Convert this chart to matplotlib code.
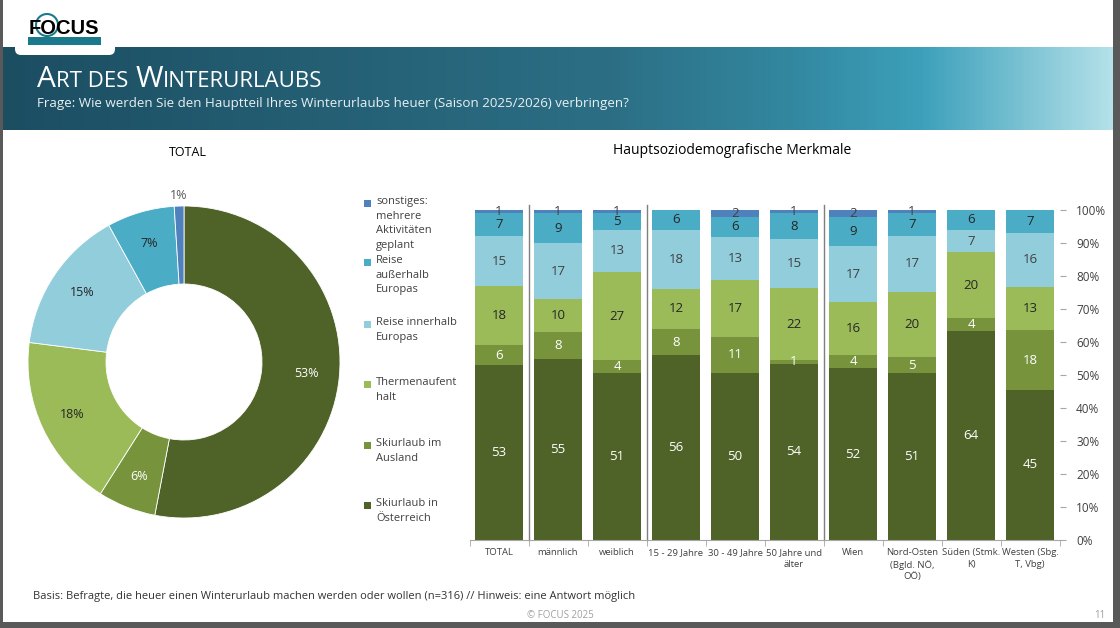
import numpy as np
import matplotlib
matplotlib.use('Agg')
import matplotlib.pyplot as plt
from matplotlib.patches import Rectangle, FancyBboxPatch, Circle
from matplotlib.colors import LinearSegmentedColormap

plt.rcParams['font.family'] = ['Open Sans', 'DejaVu Sans']

W, H = 1120, 628

# --- data -------------------------------------------------------------
series = ['Skiurlaub in Österreich', 'Skiurlaub im Ausland', 'Thermenaufenthalt',
          'Reise innerhalb Europas', 'Reise außerhalb Europas',
          'sonstiges: mehrere Aktivitäten geplant']
legend_text = ['Skiurlaub in\nÖsterreich', 'Skiurlaub im\nAusland', 'Thermenaufent\nhalt',
               'Reise innerhalb\nEuropas', 'Reise\naußerhalb\nEuropas',
               'sonstiges:\nmehrere\nAktivitäten\ngeplant']
colors = ['#4f6228', '#77933c', '#9bbb59', '#92cddc', '#4bacc6', '#4f81bd']
text_colors = ['white', 'white', '#262626', '#404040', '#262626', '#404040']

total_pct = [53, 6, 18, 15, 7, 1]

groups = ['TOTAL', 'männlich', 'weiblich', '15 - 29 Jahre', '30 - 49 Jahre',
          '50 Jahre und\nälter', 'Wien', 'Nord-Osten\n(Bgld. NÖ,\nOÖ)',
          'Süden (Stmk.\nK)', 'Westen (Sbg.\nT, Vbg)']
oesterreich = [53, 55, 51, 56, 50, 54, 52, 51, 64, 45]
ausland = [6, 8, 4, 8, 11, 1, 4, 5, 4, 18]
therme = [18, 10, 27, 12, 17, 22, 16, 20, 20, 13]
innerhalb = [15, 17, 13, 18, 13, 15, 17, 17, 7, 16]
ausserhalb = [7, 9, 5, 6, 6, 8, 9, 7, 6, 7]
sonstiges = [1, 1, 1, 0, 2, 1, 2, 1, 0, 0]

fig = plt.figure(figsize=(11.2, 6.28), dpi=100)
fig.patch.set_facecolor('white')

# background axes in pixel units for slide decorations
bg = fig.add_axes([0, 0, 1, 1])
bg.set_xlim(0, W)
bg.set_ylim(H, 0)
bg.axis('off')
bg.patch.set_alpha(0)

# header band
cmap = LinearSegmentedColormap.from_list('hdr', [
    (0.0, '#1c4e62'), (0.55, '#2c6f85'), (0.72, '#3389a1'),
    (0.83, '#3da0bb'), (0.9, '#6bbacd'), (1.0, '#b3e0e9')])
grad = np.linspace(0, 1, 400).reshape(1, -1)
bg.imshow(grad, cmap=cmap, extent=(3, 1113, 130, 47), aspect='auto', zorder=1)

# logo
bg.add_patch(FancyBboxPatch((15, -10), 100, 65, boxstyle='round,pad=0,rounding_size=6',
                            fc='white', ec='none', zorder=2))
bg.add_patch(Rectangle((28, 37), 73, 8, fc='#1a7a8c', ec='none', zorder=3))
bg.add_patch(Circle((47, 25), 11, fc='none', ec='#1a7a8c', lw=1.5, zorder=3))
bg.text(64, 34, 'FOCUS', fontsize=14.5, fontweight='bold', color='black',
        family='Liberation Sans', ha='center', va='baseline', zorder=4)

# title in small caps
r = fig.canvas.get_renderer()
x = 37
for s, size in [('A', 21.5), ('RT DES', 16), (' ', 16), ('W', 21.5), ('INTERURLAUBS', 16)]:
    if s == ' ':
        x += 7
        continue
    t = bg.text(x, 87, s, fontsize=size, color='white', va='baseline', zorder=4)
    x += t.get_window_extent(r).width
bg.text(37, 104, 'Frage: Wie werden Sie den Hauptteil Ihres Winterurlaubs heuer (Saison 2025/2026) verbringen?',
        fontsize=9.6, color='#e8f0f2', va='center', zorder=4)

# frame
bg.add_patch(Rectangle((0, 0), 3, H, fc='#595959', ec='none', zorder=5))
bg.add_patch(Rectangle((1113, 0), 7, H, fc='#595959', ec='none', zorder=5))
bg.add_patch(Rectangle((0, 622), W, 6, fc='#595959', ec='none', zorder=5))

# section titles
bg.text(188, 152, 'TOTAL', fontsize=9, color='black', ha='center', va='center')
bg.text(732, 150, 'Hauptsoziodemografische Merkmale', fontsize=10, color='black',
        ha='center', va='center')

# footer
bg.text(33, 597, 'Basis: Befragte, die heuer einen Winterurlaub machen werden oder wollen (n=316) // Hinweis: eine Antwort möglich',
        fontsize=8, color='#333333', va='center')
bg.text(560, 616, '© FOCUS 2025', fontsize=7, color='#a0a0a0', ha='center', va='center')
bg.text(1100, 615, '11', fontsize=7, color='#a0a0a0', ha='center', va='center')

# legend
leg_y = [506, 446, 385, 325, 263, 204]
for txt, col, y in zip(legend_text, colors, leg_y):
    bg.add_patch(Rectangle((364, y - 4), 7, 7, fc=col, ec='none'))
    bg.text(376, y - 8, txt, fontsize=8, color='#404040', va='top', linespacing=1.45)

# --- donut ----------------------------------------------------------------
cx, cy, rad = 184, 362, 156
pax = fig.add_axes([(cx - rad) / W, 1 - (cy + rad) / H, 2 * rad / W, 2 * rad / H])
pax.pie(total_pct, colors=colors, startangle=90, counterclock=False, radius=1,
        wedgeprops=dict(width=0.5, edgecolor='white', linewidth=0.6))
pax.set_xlim(-1, 1)
pax.set_ylim(-1, 1)
cum = np.cumsum([0] + total_pct)
for k, v in enumerate(total_pct):
    ang = np.deg2rad(90 - (cum[k] + v / 2) / 100 * 360)
    rr = 1.07 if v < 3 else 0.79
    col = '#595959' if v < 3 else text_colors[k]
    if k == 3 or k == 4:
        col = '#262626'
    pax.text(rr * np.cos(ang), rr * np.sin(ang), f'{v}%', ha='center', va='center',
             fontsize=9, color=col)

# --- stacked bars ---------------------------------------------------------
ax = fig.add_axes([469.5 / W, 1 - 540 / H, 590 / W, 330 / H])
ax.patch.set_alpha(0)
vals = np.array([oesterreich, ausland, therme, innerhalb, ausserhalb, sonstiges], dtype=float)
shares = vals / vals.sum(axis=0) * 100
xpos = np.arange(len(groups))
bottom = np.zeros(len(groups))
for k in range(len(series)):
    ax.bar(xpos, shares[k], bottom=bottom, width=0.81, color=colors[k], label=series[k])
    for i in range(len(groups)):
        if vals[k, i] > 0:
            ax.text(xpos[i], bottom[i] + shares[k, i] / 2, f'{int(vals[k, i])}',
                    ha='center', va='center', fontsize=9.5, color=text_colors[k])
    bottom += shares[k]

ax.set_xlim(-0.5, len(groups) - 0.5)
ax.set_ylim(0, 100)
for xv in [0.5, 2.5, 5.5]:
    ax.axvline(xv, ymin=0, ymax=1.015, color='#7f7f7f', lw=1, clip_on=False)

ax.yaxis.tick_right()
ax.set_yticks(np.arange(0, 101, 10))
ax.set_yticklabels([f'{v}%' for v in range(0, 101, 10)])
ax.tick_params(axis='y', length=4, color='#a6a6a6', labelsize=8.5, labelcolor='#404040', pad=8)
ax.set_xticks(xpos)
ax.set_xticklabels(groups)
ax.set_xticks(np.arange(-0.5, len(groups), 1), minor=True)
ax.tick_params(axis='x', which='major', length=0, labelsize=6.8, labelcolor='#404040', pad=6)
ax.tick_params(axis='x', which='minor', length=4, color='#a6a6a6')
for lab in ax.get_xticklabels():
    lab.set_linespacing(1.35)
for sp in ['top', 'left', 'right']:
    ax.spines[sp].set_visible(False)
ax.spines['bottom'].set_color('#a6a6a6')

fig.savefig('out.png', dpi=100)
